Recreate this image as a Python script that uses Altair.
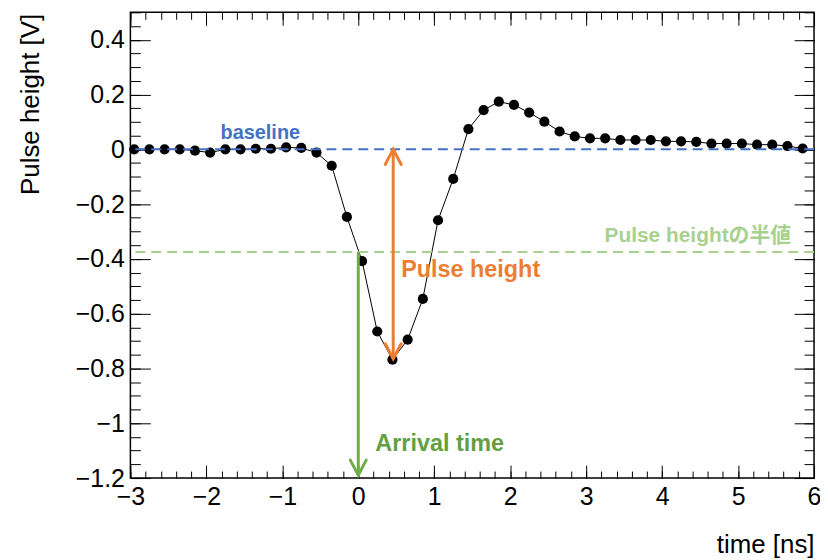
import altair as alt
import pandas as pd

# ---------------- data ----------------
time_ns = [-2.95, -2.75, -2.55, -2.35, -2.15, -1.95, -1.75, -1.55, -1.35, -1.15,
           -0.95, -0.75, -0.55, -0.35, -0.15, 0.05, 0.25, 0.45, 0.65, 0.85,
           1.05, 1.25, 1.45, 1.65, 1.85, 2.05, 2.25, 2.45, 2.65, 2.85,
           3.05, 3.25, 3.45, 3.65, 3.85, 4.05, 4.25, 4.45, 4.65, 4.85,
           5.05, 5.25, 5.45, 5.65, 5.85]
pulse_v = [0.0, 0.0, 0.0, 0.0, -0.005, -0.012, 0.0, 0.0, 0.002, 0.002,
           0.007, 0.005, -0.012, -0.06, -0.247, -0.408, -0.665, -0.768, -0.695, -0.546,
           -0.259, -0.108, 0.074, 0.143, 0.174, 0.162, 0.134, 0.101, 0.065, 0.047,
           0.040, 0.040, 0.034, 0.034, 0.034, 0.029, 0.029, 0.027, 0.021, 0.021,
           0.021, 0.017, 0.017, 0.012, 0.003]

baseline_level = [0.0]
half_level = [-0.375]
pulse_arrow = {"time": [0.46], "v": [0.0], "v2": [-0.765]}
arrival_arrow = {"time": [0.0], "v": [-0.375], "v2": [-1.19]}

labels_text = ["baseline", "Pulse height", "Pulse heightの半値", "Arrival time"]
labels_time = [-1.29, 0.565, 5.70, 0.225]
labels_v = [0.037, -0.466, -0.338, -1.103]

x_major = [-3, -2, -1, 0, 1, 2, 3, 4, 5, 6]
x_minor = [round(-3 + 0.2 * i, 2) for i in range(46)]
y_major = [-1.2, -1.0, -0.8, -0.6, -0.4, -0.2, 0.0, 0.2, 0.4]
y_minor = [round(-1.2 + 0.05 * i, 2) for i in range(35)]

X_DOM = [-3, 6]
Y_DOM = [-1.2, 0.5]

# ---------------- styles ----------------
FONT = "Liberation Sans"
FONT_CJK = "Liberation Sans, Noto Sans CJK JP"
BLUE = "#4472C4"
LGREEN = "#A9D18E"
ORANGE = "#ED7D31"
GREEN = "#70AD47"
GREEN_TXT = "#62A044"
W, H = 687, 468

CHEVRON_UP = "M -1 1.9 L 0 0 L 1 1.9"
CHEVRON_DOWN = "M -1 -1.9 L 0 0 L 1 -1.9"

df = pd.DataFrame({"time": time_ns, "v": pulse_v})


def xs():
    return alt.Scale(domain=X_DOM, nice=False, zero=False)


def ys():
    return alt.Scale(domain=Y_DOM, nice=False, zero=False)


BASE_AX = dict(domain=False, grid=False, tickColor="black", tickWidth=1,
               labelFont=FONT, labelFontSize=25, labelColor="black",
               titleFont=FONT, titleFontSize=26, titleFontWeight="normal",
               titleColor="black", labelFlush=False, labelOverlap=False)


def tick_axis(orient, values, size):
    return alt.Axis(orient=orient, values=values, tickSize=size, offset=-size,
                    labels=False, title=None, **BASE_AX)


x_main_axis = alt.Axis(orient="bottom", values=x_major, tickSize=13, offset=-13,
                       labelPadding=7, format="~g", titleX=W, titleY=88,
                       titleAlign="right", titleBaseline="alphabetic", **BASE_AX)
y_main_axis = alt.Axis(orient="left", values=y_major, tickSize=20, offset=-20,
                       labelPadding=6, format="~g", titleX=-120, titleY=1,
                       titleAngle=270, titleAlign="right", titleBaseline="middle",
                       **BASE_AX)


def X(field="time"):
    return alt.X(f"{field}:Q", scale=xs(), axis=None)


def Y(field="v"):
    return alt.Y(f"{field}:Q", scale=ys(), axis=None)


# ---------------- main layer (no axes) ----------------
line = alt.Chart(df).mark_line(color="black", strokeWidth=1).encode(x=X(), y=Y())
pts = alt.Chart(df).mark_point(filled=True, size=105, color="black", opacity=1).encode(
    x=X(), y=Y()
)

base_rule = alt.Chart(pd.DataFrame({"v": baseline_level})).mark_rule(
    color=BLUE, strokeWidth=2, strokeDash=[10, 6]
).encode(y=Y())
half_rule = alt.Chart(pd.DataFrame({"v": half_level})).mark_rule(
    color=LGREEN, strokeWidth=2, strokeDash=[10, 6]
).encode(y=Y())


def arrow(d, color, heads):
    adf = pd.DataFrame(d)
    shaft = alt.Chart(adf).mark_rule(color=color, strokeWidth=3).encode(
        x=X(), y=Y(), y2="v2:Q"
    )
    layers = [shaft]
    for which, shape in heads:
        hdf = pd.DataFrame({"time": d["time"], "v": d[which]})
        layers.append(
            alt.Chart(hdf).mark_point(shape=shape, filled=False, size=256,
                                      strokeWidth=3, color=color, opacity=1,
                                      strokeCap="round")
            .encode(x=X(), y=Y())
        )
    return layers


orange_arrow = arrow(pulse_arrow, ORANGE, [("v", CHEVRON_UP), ("v2", CHEVRON_DOWN)])
green_arrow = arrow(arrival_arrow, GREEN, [("v2", CHEVRON_DOWN)])

lab_df = pd.DataFrame({"time": labels_time, "v": labels_v, "label": labels_text})
text_specs = [
    (0, "center", 20, BLUE),
    (1, "left", 23.5, ORANGE),
    (2, "right", 21, LGREEN),
    (3, "left", 23.5, GREEN_TXT),
]
texts = []
for i, align, fs, col in text_specs:
    texts.append(
        alt.Chart(lab_df.iloc[[i]]).mark_text(
            align=align, baseline="alphabetic", font=FONT_CJK, fontSize=fs,
            fontWeight="bold", color=col
        ).encode(x=X(), y=Y(), text="label:N")
    )

main = alt.layer(line, pts, base_rule, half_rule, *orange_arrow, *green_arrow, *texts)

# ---------------- axis-only layers (ROOT style frame) ----------------
major_bl = alt.Chart(df).mark_point(opacity=0).encode(
    x=alt.X("time:Q", title="time [ns]", scale=xs(), axis=x_main_axis),
    y=alt.Y("v:Q", title="Pulse height [V]", scale=ys(), axis=y_main_axis),
)


def tick_layer(xo, xv, xsz, yo, yv, ysz):
    return alt.Chart(df).mark_point(opacity=0).encode(
        x=alt.X("time:Q", scale=xs(), axis=tick_axis(xo, xv, xsz)),
        y=alt.Y("v:Q", scale=ys(), axis=tick_axis(yo, yv, ysz)),
    )


minor_bl = tick_layer("bottom", x_minor, 7, "left", y_minor, 10)
major_tr = tick_layer("top", x_major, 13, "right", y_major, 20)
minor_tr = tick_layer("top", x_minor, 7, "right", y_minor, 10)

chart = (
    alt.layer(major_bl, minor_bl, major_tr, minor_tr, main)
    .resolve_scale(x="independent", y="independent")
    .properties(
        width=W, height=H,
        autosize=alt.AutoSizeParams(type="none"),
        padding={"left": 123, "top": 3, "right": 6, "bottom": 80},
        background="white",
    )
    .configure_view(stroke="black", strokeWidth=1.5)
)

chart.save("out.html", embed_options={"renderer": "svg", "actions": False})
